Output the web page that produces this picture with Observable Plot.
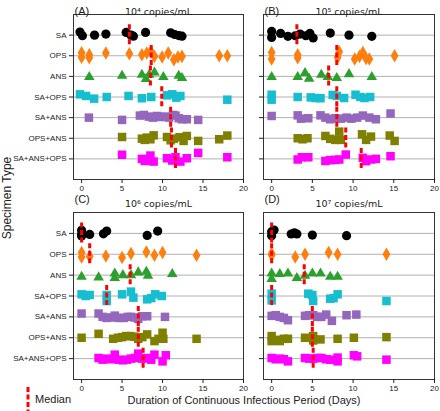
<!DOCTYPE html>
<html><head><meta charset="utf-8">
<script src="https://cdn.jsdelivr.net/npm/d3@7"></script>
<script src="https://cdn.jsdelivr.net/npm/@observablehq/plot@0.6"></script>
<style>
body{margin:0;background:#fff;}
#root{position:relative;width:440px;height:411px;overflow:hidden;font-family:"Liberation Sans",Arial,sans-serif;color:#222;}
.pnl{position:absolute;}
.lbl{position:absolute;white-space:nowrap;font-size:11px;}
</style></head><body><div id="root"></div>
<script>
const specimens = ["SA","OPS","ANS","SA+OPS","SA+ANS","OPS+ANS","SA+ANS+OPS"];
const panelTags = ["(A)","(B)","(C)","(D)"];
const panelTitles = ["10\u2074 copies/mL","10\u2075 copies/mL","10\u2076 copies/mL","10\u2077 copies/mL"];
const xTicks = [0,5,10,15,20];

// [days, vertical jitter in row units]
const daysA = {
  "SA": [[-0.2,-0.15],[0.1,0.03],[1.6,0],[3.0,-0.05],[5.5,-0.13],[6.1,0],[6.4,0.05],[7.9,-0.13],[11.0,-0.11],[11.5,-0.03],[12.0,0.02],[12.4,0.05]],
  "OPS": [[0,-0.15],[0,0.07],[0.95,-0.05],[0.95,0.1],[3.0,-0.13],[5.9,-0.1],[7.45,-0.05],[8.05,-0.13],[8.55,-0.2],[9.0,0.03],[9.95,0.06],[10.7,-0.13],[11.4,0.19],[11.9,0.06],[12.4,0.03],[17.0,0],[18.0,0]],
  "ANS": [[0.95,0.03],[5.0,-0.03],[7.45,-0.08],[7.95,0.13],[8.35,-0.08],[9.0,-0.19],[10.1,0.03],[12.0,-0.03],[12.4,0.08]],
  "SA+OPS": [[-0.2,-0.13],[0.55,-0.05],[1.55,0.08],[3.1,0],[5.8,-0.05],[7.45,0.06],[8.6,0],[10.55,-0.08],[11.2,-0.13],[11.7,0.03],[12.2,-0.05],[18.0,0.13]],
  "SA+ANS": [[0.9,0],[5.0,0.11],[7.2,-0.1],[7.7,-0.13],[8.3,-0.05],[8.8,0],[9.3,-0.08],[9.8,-0.03],[10.3,-0.05],[10.8,0],[11.3,-0.13],[11.6,-0.1],[12.0,0.03],[12.4,0.08],[13.0,0.08],[14.4,0.11]],
  "OPS+ANS": [[5.0,-0.06],[7.45,0.02],[7.8,0.08],[8.05,-0.03],[8.5,0.05],[8.9,-0.14],[10.55,-0.06],[11.0,0.1],[11.4,0.02],[12.1,-0.05],[12.6,0.13],[13.0,-0.11],[14.4,0.13],[17.0,0.05],[18.0,-0.13]],
  "SA+ANS+OPS": [[5.0,-0.2],[7.45,0],[7.8,0.1],[8.05,0.08],[8.5,-0.16],[8.9,0.13],[10.55,-0.03],[11.2,0.08],[11.6,-0.08],[12.2,0.13],[13.0,-0.03],[14.4,-0.29],[18.0,-0.08]]
};
const daysB = {
  "SA": [[0,-0.18],[0,0.11],[1.1,-0.08],[2.0,0.06],[2.9,0.03],[3.5,-0.05],[4.2,0.03],[4.7,-0.08],[5.1,0.14],[7.2,-0.1],[9.5,0],[12.3,0.06]],
  "OPS": [[0,-0.16],[0,0.16],[3.2,-0.05],[3.2,0.1],[8.1,0.08],[8.3,-0.19],[10.2,0.16],[10.8,0.03],[11.2,-0.16],[11.6,0.13],[12.0,0.16],[15.1,0]],
  "ANS": [[0,0.03],[3.2,0.03],[4.1,-0.16],[4.6,0.11],[6.1,-0.08],[6.9,0.03],[8.0,0.08],[9.5,-0.11],[12.3,0.03]],
  "SA+OPS": [[0,-0.11],[0,0.13],[3.2,0],[4.8,0.02],[5.4,0.05],[6.0,0.06],[7.5,-0.1],[8.0,-0.05],[8.9,0.05],[10.3,-0.11],[10.9,0],[11.4,0.05],[12.1,0]],
  "SA+ANS": [[0,-0.08],[3.2,-0.11],[3.6,0.05],[4.5,0.03],[6.0,-0.11],[6.6,0],[7.2,0.08],[7.8,0.03],[8.5,0.05],[9.2,0],[9.8,0.05],[10.5,0],[11.2,-0.1],[12.0,0],[12.8,0.08],[14.6,-0.2]],
  "OPS+ANS": [[3.2,0],[3.8,0.05],[4.4,0],[6.6,-0.11],[7.2,0.03],[7.8,0.08],[8.3,-0.32],[8.5,0.08],[11.1,-0.19],[11.6,0.08],[12.2,-0.08],[14.5,-0.13],[15.1,0.13]],
  "SA+ANS+OPS": [[3.2,0.03],[3.7,-0.08],[4.5,-0.08],[6.6,0.1],[7.2,0.06],[7.8,0.05],[8.3,0.03],[9.1,-0.21],[11.2,-0.05],[11.6,0.11],[12.2,0.03],[12.8,0],[14.6,-0.13]]
};
const daysC = {
  "SA": [[0,-0.15],[0,0.05],[0,0.13],[1.0,0.05],[2.7,0.02],[3.1,-0.11],[8.1,0.1],[9.4,-0.11]],
  "OPS": [[0,-0.08],[0,0.13],[1.0,0.11],[3.0,0.08],[5.0,0.16],[6.1,-0.03],[8.0,-0.11],[9.0,0.05],[10.0,-0.08],[14.2,0.05]],
  "ANS": [[0,0.08],[2.1,0.11],[4.1,-0.08],[4.1,0.14],[5.1,0],[6.1,0],[7.0,-0.13],[8.0,-0.16],[8.2,0.03],[11.2,-0.05]],
  "SA+OPS": [[0,-0.08],[0.5,0],[1.0,-0.05],[3.1,-0.05],[3.1,0.24],[5.0,-0.08],[6.1,-0.21],[6.4,0.08],[8.1,0.16],[8.6,0.1],[9.1,-0.08],[9.9,0]],
  "SA+ANS": [[0,-0.16],[2.1,-0.16],[2.6,0],[3.1,0.05],[3.6,0.03],[4.1,-0.06],[4.6,0.05],[5.2,0.05],[5.7,0],[6.1,0],[6.6,0.03],[7.0,0.1],[7.5,-0.03],[8.1,-0.03],[10.3,0]],
  "OPS+ANS": [[0,0],[2.1,-0.19],[3.9,0.05],[4.5,0],[5.0,-0.03],[5.5,-0.08],[6.0,-0.08],[6.5,-0.05],[7.0,0.05],[7.5,-0.03],[8.1,-0.16],[9.0,0.16],[9.5,0.05],[10.0,-0.24],[10.1,0.05],[14.2,0.05]],
  "SA+ANS+OPS": [[2.1,-0.03],[2.6,0.05],[3.1,0],[3.6,0.03],[4.1,-0.19],[4.6,0.05],[5.1,0.08],[5.6,0.05],[6.1,0],[6.6,-0.03],[7.0,-0.24],[7.5,0],[8.1,-0.03],[8.6,0.05],[9.0,-0.19],[10.0,0.13],[10.4,-0.16]]
};
const daysD = {
  "SA": [[0,-0.08],[0,0.11],[0.3,-0.16],[2.4,0.03],[2.8,-0.03],[3.1,0.03],[5.0,0.08],[9.2,0.11]],
  "OPS": [[0,-0.03],[0,0.05],[2.9,0.13],[4.1,0],[7.0,-0.08],[8.1,0],[14.1,0]],
  "ANS": [[0,-0.08],[0,0.19],[1.0,-0.05],[2.0,-0.08],[3.1,0.14],[4.1,0.03],[5.0,-0.08],[6.0,-0.08],[7.2,0.08],[8.1,0.08]],
  "SA+OPS": [[0,-0.11],[0,0.21],[4.5,-0.11],[5.0,-0.05],[5.1,0.24],[7.2,0.13],[7.6,0.1],[8.1,-0.08],[14.1,0.24]],
  "SA+ANS": [[0,-0.05],[0.5,-0.08],[1.0,0],[1.5,0.05],[2.0,0.16],[4.1,-0.05],[4.6,-0.08],[5.1,-0.08],[5.6,0],[6.1,0],[6.7,-0.11],[7.4,0.19],[9.2,-0.08],[10.4,-0.11]],
  "OPS+ANS": [[0,-0.08],[0,0.16],[0.5,0.1],[1.0,0.16],[1.5,0.05],[2.0,0.05],[4.1,0],[5.1,-0.08],[5.1,0.13],[6.0,0.08],[8.1,0.05],[10.1,0],[14.1,-0.03]],
  "SA+ANS+OPS": [[0,-0.03],[0.5,0.03],[1.0,0],[1.5,0.03],[2.0,0.13],[4.1,-0.03],[4.6,0],[5.1,0],[5.6,-0.03],[6.1,-0.03],[6.7,0.03],[7.2,0.05],[8.1,0.13],[8.1,-0.05],[10.1,-0.16],[10.5,-0.11],[14.1,0.05]]
};
const medianA = [5.9, 8.6, 8.5, 9.9, 11.0, 11.1, 11.6];
const medianB = [3.1, 8.0, 7.0, 8.0, 8.0, 9.1, 11.0];
const medianC = [0, 1.0, 6.0, 3.1, 7.0, 7.0, 7.6];
const medianD = [0, 0, 4.0, 0, 5.0, 5.0, 5.1];

const colors = ["#000000","#ff7f0e","#2ca02c","#17becf","#9467bd","#808000","#ff00ff"];
const symbols = ["circle","diamond","triangle","square","square","square","square"];
const radii = [4.6, 4.1, 3.9, 4.8, 4.8, 4.8, 4.8];
const FONT = '"Liberation Sans", Arial, sans-serif';

function makePanel(k, pts, med, o) {
  const marks = [
    Plot.gridY(d3.range(7), {stroke: "#b0b0b0", strokeOpacity: 1, strokeWidth: 1})
  ];
  specimens.forEach((s, i) => {
    marks.push(Plot.dot(pts[s], {x: d => d[0], y: d => i + d[1], symbol: symbols[i], fill: colors[i], r: radii[i], stroke: "none"}));
  });
  marks.push(Plot.ruleX(med.map((m, i) => ({m, i})), {x: "m", y1: d => d.i - 0.5, y2: d => d.i + 0.5, stroke: "#ff0000", strokeWidth: 3, strokeDasharray: "5,2.5"}));
  marks.push(Plot.frame({stroke: "#333", strokeWidth: 1}));
  marks.push(Plot.axisX(xTicks, {tickSize: 4, tickPadding: 2, label: null, fontSize: 8}));
  marks.push(Plot.axisY(d3.range(7), {tickSize: 4, tickPadding: 3, label: null, fontSize: 8,
    tickFormat: i => o.labels ? specimens[i] : ""}));
  marks.push(Plot.text([panelTags[k]], {frameAnchor: "top-left", dy: o.tagDy, dx: 1, textAnchor: "start", fontSize: 11, fill: "#222"}));
  marks.push(Plot.text([panelTitles[k]], {frameAnchor: "top", dy: o.titleDy, fontSize: 9.5, fontFamily: '"DejaVu Sans", sans-serif', fill: "#222"}));
  const svg = Plot.plot({
    width: o.width, height: o.height,
    marginLeft: o.ml, marginRight: o.mr, marginTop: o.mt, marginBottom: o.mb,
    x: {domain: [-1, 20]},
    y: {domain: [7, -1]},
    style: {fontFamily: FONT, fontSize: "8px", background: "transparent", color: "#222", overflow: "visible"},
    marks
  });
  const wrap = document.createElement("div");
  wrap.className = "pnl";
  wrap.style.left = o.left + "px";
  wrap.style.top = o.top + "px";
  wrap.appendChild(svg);
  return wrap;
}

const root = document.getElementById("root");
const topCfg = {height: 200, mt: 14, mb: 21, top: 0, tagDy: -7, titleDy: -6};
const botCfg = {height: 205, mt: 22, mb: 16, top: 190, tagDy: -17, titleDy: -12};
const leftCfg = {width: 250, ml: 73, mr: 7, left: 0, labels: true};
const rightCfg = {width: 190, ml: 13, mr: 6, left: 250, labels: false};
root.appendChild(makePanel(0, daysA, medianA, {...topCfg, ...leftCfg}));
root.appendChild(makePanel(1, daysB, medianB, {...topCfg, ...rightCfg}));
root.appendChild(makePanel(2, daysC, medianC, {...botCfg, ...leftCfg}));
root.appendChild(makePanel(3, daysD, medianD, {...botCfg, ...rightCfg}));

// axis titles and legend
const yl = document.createElement("div");
yl.className = "lbl";
yl.textContent = "Specimen Type";
yl.style.cssText += "font-size:12px;left:7px;top:198px;transform:translate(-50%,-50%) rotate(-90deg);";
root.appendChild(yl);

const xl = document.createElement("div");
xl.className = "lbl";
xl.textContent = "Duration of Continuous Infectious Period (Days)";
xl.style.cssText += "left:244px;top:400px;transform:translate(-50%,-50%);";
root.appendChild(xl);

const lg = document.createElement("div");
lg.className = "lbl";
lg.style.cssText += "left:20px;top:386px;display:flex;align-items:center;";
lg.innerHTML = '<svg width="14" height="25"><line x1="8" x2="8" y1="1" y2="25" stroke="#ff0000" stroke-width="3" stroke-dasharray="5,2.5"/></svg><span style="margin-left:1px">Median</span>';
root.appendChild(lg);
</script>
</body></html>
